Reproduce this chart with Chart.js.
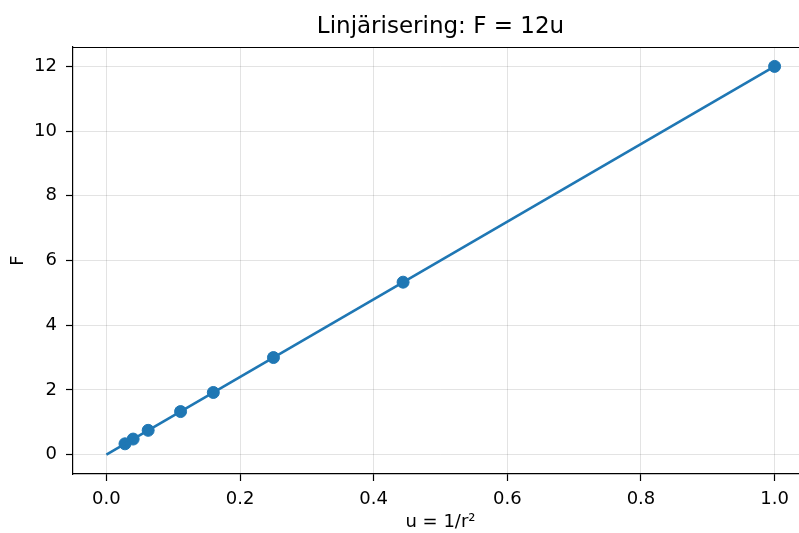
<!DOCTYPE html>
<html>
<head>
<meta charset="utf-8">
<script src="https://cdn.jsdelivr.net/npm/chart.js@4"></script>
<style>
  html, body { margin: 0; padding: 0; background: #fff; overflow: hidden; }
  #wrap { width: 840px; height: 533px; }
</style>
</head>
<body>
<div id="wrap"><canvas id="chart" width="840" height="533"></canvas></div>
<script>
// measured points: u = 1/r^2, F
const uValues = [1.0, 0.444, 0.25, 0.16, 0.111, 0.0625, 0.04, 0.0278];
const fValues = [12.0, 5.33, 3.0, 1.92, 1.33, 0.75, 0.48, 0.333];
// fitted line F = 12u
const fitU = [0, 1];
const fitF = [0, 12];
const xTicks = [0, 0.2, 0.4, 0.6, 0.8, 1.0];
const yTicks = [0, 2, 4, 6, 8, 10, 12];

const blue = "#1f77b4";
const font = "'DejaVu Sans', sans-serif";

const topSpine = {
  id: "topSpine",
  afterDraw(chart) {
    const { ctx, chartArea } = chart;
    ctx.save();
    ctx.strokeStyle = "#000";
    ctx.lineWidth = 1.2;
    ctx.beginPath();
    ctx.moveTo(chartArea.left, chartArea.top + 0.5);
    ctx.lineTo(chartArea.right, chartArea.top + 0.5);
    ctx.stroke();
    ctx.restore();
  }
};

new Chart(document.getElementById("chart"), {
  type: "scatter",
  data: {
    datasets: [
      {
        type: "line",
        data: fitU.map((u, i) => ({ x: u, y: fitF[i] })),
        borderColor: blue,
        borderWidth: 2.6,
        pointRadius: 0,
        fill: false
      },
      {
        data: uValues.map((u, i) => ({ x: u, y: fValues[i] })),
        backgroundColor: blue,
        borderColor: blue,
        pointRadius: 6,
        pointHoverRadius: 6
      }
    ]
  },
  options: {
    responsive: false,
    animation: false,
    layout: { padding: { left: 1, right: 32, top: 0, bottom: 0 } },
    plugins: {
      legend: { display: false },
      tooltip: { enabled: false },
      title: {
        display: true,
        fullSize: false,
        text: "Linjärisering: F = 12u",
        color: "#000",
        font: { family: font, size: 23, weight: "normal" },
        padding: { top: 13, bottom: 6.4 }
      }
    },
    scales: {
      x: {
        type: "linear",
        min: -0.05,
        max: 1.05,
        afterBuildTicks: axis => { axis.ticks = xTicks.map(v => ({ value: v })); },
        afterFit: axis => { axis.height = 59; },
        ticks: {
          color: "#000",
          font: { family: font, size: 18 },
          padding: 8,
          callback: v => v.toFixed(1)
        },
        grid: { color: "rgba(0,0,0,0.11)", tickColor: "#000", tickLength: 7, tickWidth: 1.2 },
        border: { color: "#000", width: 1.2 },
        title: {
          display: true,
          text: "u = 1/r²",
          color: "#000",
          font: { family: font, size: 18 },
          padding: { top: 0, bottom: 0 }
        }
      },
      y: {
        type: "linear",
        min: -0.6,
        max: 12.6,
        afterBuildTicks: axis => { axis.ticks = yTicks.map(v => ({ value: v })); },
        afterFit: axis => { axis.width = 72; },
        ticks: {
          color: "#000",
          font: { family: font, size: 18 },
          padding: 9
        },
        grid: { color: "rgba(0,0,0,0.11)", tickColor: "#000", tickLength: 7, tickWidth: 1.2 },
        border: { color: "#000", width: 1.2 },
        title: {
          display: true,
          text: "F",
          color: "#000",
          font: { family: font, size: 18 },
          padding: { top: 7, bottom: 0 }
        }
      }
    }
  },
  plugins: [topSpine]
});
</script>
</body>
</html>
